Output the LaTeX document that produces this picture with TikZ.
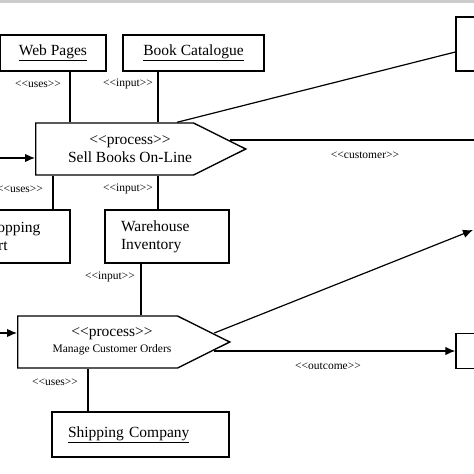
\documentclass[tikz,border=0pt]{standalone}
\usepackage{fontspec}
\setmainfont{Liberation Serif}
\usepackage{tikz}
\usetikzlibrary{arrows.meta,positioning,calc}
\usetikzlibrary{shapes.symbols}
\newcommand{\stereo}[1]{<\kern0pt<#1>\kern0pt>}
\tikzset{
  objbox/.style={draw,line width=1.4pt,rectangle,inner sep=0pt,font=\fontsize{15.5}{18}\selectfont},
  procbox/.style={draw,line width=1.4pt,signal,signal to=east,signal pointer angle=53,inner sep=0pt,anchor=west},
  conn/.style={line width=1.2pt},
  arr/.style={conn,-{Latex[length=10pt,width=8.5pt]}},
  lbl/.style={font=\fontsize{11.5}{13}\selectfont,inner sep=0pt}
}

\begin{document}
\begin{tikzpicture}[x=1pt,y=-1pt]
	\useasboundingbox (0,0) rectangle (474,474);
	\clip (0,0) rectangle (474,474);
	\fill[gray!40] (0,0) rectangle (474,2.5);
	% objects
	\node[objbox,minimum width=106pt,minimum height=36pt] (webpages) at (53,53) {\underline{Web Pages}};
	\node[objbox,minimum width=141pt,minimum height=36pt] (bookcat) at (193.5,53) {\underline{Book Catalogue}};
	\node[objbox,minimum width=74pt,minimum height=54pt] (actor) at (493,44) {};
	\node[objbox,inner xsep=16pt,text width=73pt,minimum height=53pt,align=left] (cart) at (17.5,236.5) {Shopping\\Cart};
	\node[objbox,inner xsep=16pt,text width=92pt,minimum height=53pt,align=left] (warehouse) at (167,236.5) {Warehouse\\Inventory};
	\node[objbox,inner xsep=16pt,text width=145pt,minimum height=45pt,align=left] (shipco) at (140.5,434.5) {\underline{Shipping Company}};
	\node[objbox,minimum width=68pt,minimum height=35pt] (rbox) at (490,351) {};
	% processes
	\node[procbox,minimum width=210pt,minimum height=52pt] (sell) at (35,149) {};
	\node[align=center,font=\fontsize{15.5}{17.5}\selectfont] (selltxt) at (130,149) {\stereo{process}\\Sell Books On-Line};
	\node[procbox,minimum width=212pt,minimum height=52pt] (manage) at (17,342) {};
	\node[align=center,font=\fontsize{15.5}{16}\selectfont] (managetxt) at (112,341) {\stereo{process}\\{\fontsize{11.5}{13}\selectfont Manage Customer Orders}};
	% connectors
	\draw[conn] ([xshift=17pt]webpages.south) coordinate (wp) -- (wp |- sell.north);
	\draw[conn] ([xshift=-35.5pt]bookcat.south) coordinate (bc) -- (bc |- sell.north);
	\coordinate (sellTL) at (sell.west |- sell.north);
	\draw[conn] ([xshift=142pt]sellTL) -- ([yshift=-8pt]actor.west);
	\coordinate (custend) at (480,140);
	\draw[conn] ($(sell.east)+(-17,-9)$) -- (custend);
	\coordinate (in1) at (-5,158);
	\draw[arr] (in1) -- (in1 -| sell.west);
	\draw[conn] ([xshift=35.5pt]cart.north) coordinate (ca) -- (ca |- sell.south);
	\draw[conn] ([xshift=-9pt]warehouse.north) coordinate (wh) -- (wh |- sell.south);
	\draw[conn] ([xshift=-26pt]warehouse.south) coordinate (wi) -- (wi |- manage.north);
	\coordinate (in2) at (-5,333);
	\draw[arr] (in2) -- (in2 -| manage.west);
	\coordinate (upend) at (473,230);
	\draw[arr] ($(manage.east)+(-17,-9)$) -- (upend);
	\draw[arr] ($(manage.east)+(-17,9)$) -- (rbox.west);
	\draw[conn] ([xshift=-52.5pt]shipco.north) coordinate (sc) -- (sc |- manage.south);
	% stereotypes
	\node[lbl] (l1) at (38,84) {\stereo{uses}};
	\node[lbl] (l2) at (128,84) {\stereo{input}};
	\node[lbl] (l3) at (20,189) {\stereo{uses}};
	\node[lbl] (l4) at (128,189) {\stereo{input}};
	\node[lbl] (l5) at (365,155) {\stereo{customer}};
	\node[lbl] (l6) at (110,277) {\stereo{input}};
	\node[lbl] (l7) at (328,366) {\stereo{outcome}};
	\node[lbl] (l8) at (55,382) {\stereo{uses}};
\end{tikzpicture}
\end{document}
